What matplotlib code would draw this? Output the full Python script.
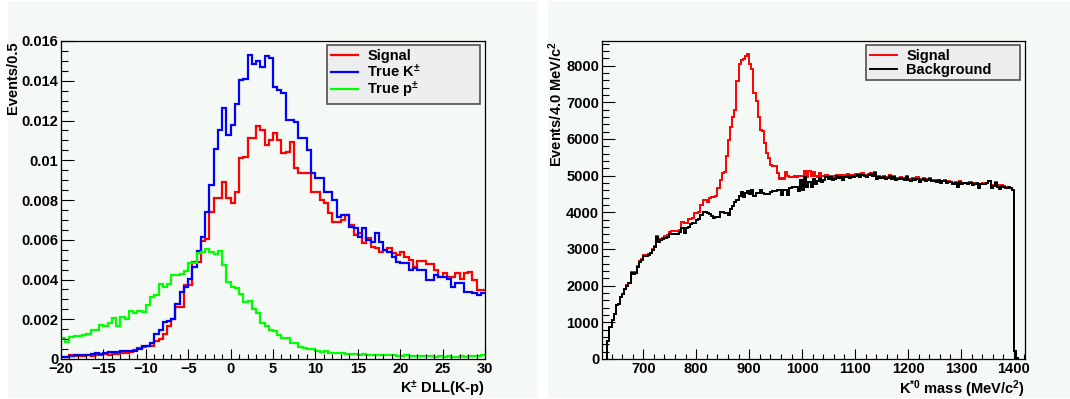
import numpy as np
import matplotlib
matplotlib.use('Agg')
import matplotlib.pyplot as plt
from matplotlib.patches import Rectangle
from matplotlib.ticker import MultipleLocator, FuncFormatter

plt.rcParams['font.family'] = ['Liberation Sans', 'DejaVu Sans']
plt.rcParams['font.weight'] = 'bold'
plt.rcParams['mathtext.fontset'] = 'custom'
plt.rcParams['mathtext.rm'] = 'Liberation Sans:bold'
plt.rcParams['mathtext.it'] = 'Liberation Sans:bold'
plt.rcParams['mathtext.bf'] = 'Liberation Sans:bold'
plt.rcParams['mathtext.default'] = 'rm'

# ---- left panel: K DLL(K-p), 0.5 wide bins starting at -20
dll_start, dll_width = -20.0, 0.5
signal_dll = [
    0.00010, 0.00012, 0.00018, 0.00016, 0.00015, 0.00017, 0.00018, 0.00016, 0.00020, 0.00022,
    0.00024, 0.00022, 0.00026, 0.00025, 0.00028, 0.00030, 0.00034, 0.00045, 0.00055, 0.00059,
    0.00067, 0.00067, 0.00092, 0.00100, 0.00126, 0.00168, 0.00201, 0.00260, 0.00260, 0.00374,
    0.00374, 0.00489, 0.00489, 0.00596, 0.00604, 0.00741, 0.00808, 0.00808, 0.00892, 0.00808,
    0.00783, 0.00842, 0.01009, 0.01018, 0.01110, 0.01110, 0.01172, 0.01152, 0.01077, 0.01102,
    0.01139, 0.01102, 0.01035, 0.01043, 0.01093, 0.00959, 0.00934, 0.00934, 0.00937, 0.00842,
    0.00842, 0.00800, 0.00783, 0.00733, 0.00691, 0.00691, 0.00700, 0.00725, 0.00674, 0.00624,
    0.00632, 0.00582, 0.00607, 0.00565, 0.00557, 0.00540, 0.00548, 0.00557, 0.00532, 0.00523,
    0.00540, 0.00515, 0.00498, 0.00465, 0.00495, 0.00495, 0.00478, 0.00478, 0.00448, 0.00414,
    0.00431, 0.00414, 0.00414, 0.00431, 0.00405, 0.00431, 0.00439, 0.00397, 0.00347, 0.00347,
]
true_k_dll = [
    0.00010, 0.00012, 0.00015, 0.00020, 0.00018, 0.00020, 0.00022, 0.00025, 0.00029, 0.00027,
    0.00029, 0.00033, 0.00037, 0.00035, 0.00040, 0.00042, 0.00040, 0.00038, 0.00052, 0.00066,
    0.00066, 0.00078, 0.00128, 0.00145, 0.00186, 0.00191, 0.00203, 0.00279, 0.00337, 0.00362,
    0.00404, 0.00463, 0.00543, 0.00614, 0.00740, 0.00874, 0.01058, 0.01154, 0.01265, 0.01129,
    0.01176, 0.01285, 0.01402, 0.01410, 0.01529, 0.01484, 0.01500, 0.01467, 0.01524, 0.01512,
    0.01370, 0.01353, 0.01336, 0.01202, 0.01202, 0.01194, 0.01110, 0.01110, 0.01051, 0.00934,
    0.00909, 0.00909, 0.00842, 0.00842, 0.00800, 0.00716, 0.00725, 0.00725, 0.00666, 0.00657,
    0.00615, 0.00657, 0.00599, 0.00590, 0.00632, 0.00590, 0.00548, 0.00540, 0.00515, 0.00490,
    0.00485, 0.00485, 0.00448, 0.00456, 0.00448, 0.00448, 0.00397, 0.00397, 0.00422, 0.00414,
    0.00414, 0.00405, 0.00364, 0.00380, 0.00380, 0.00339, 0.00339, 0.00330, 0.00322, 0.00330,
]
true_p_dll = [
    0.00104, 0.00087, 0.00112, 0.00117, 0.00115, 0.00120, 0.00128, 0.00145, 0.00145, 0.00170,
    0.00165, 0.00181, 0.00208, 0.00165, 0.00211, 0.00203, 0.00242, 0.00233, 0.00242, 0.00237,
    0.00271, 0.00310, 0.00322, 0.00377, 0.00364, 0.00377, 0.00422, 0.00422, 0.00430, 0.00444,
    0.00484, 0.00484, 0.00531, 0.00536, 0.00551, 0.00539, 0.00528, 0.00543, 0.00472, 0.00388,
    0.00364, 0.00355, 0.00327, 0.00289, 0.00294, 0.00250, 0.00233, 0.00180, 0.00165, 0.00146,
    0.00140, 0.00121, 0.00104, 0.00104, 0.00082, 0.00082, 0.00062, 0.00055, 0.00050, 0.00049,
    0.00042, 0.00037, 0.00038, 0.00031, 0.00029, 0.00030, 0.00028, 0.00026, 0.00024, 0.00025,
    0.00022, 0.00024, 0.00021, 0.00020, 0.00022, 0.00019, 0.00020, 0.00018, 0.00019, 0.00017,
    0.00016, 0.00018, 0.00015, 0.00016, 0.00014, 0.00015, 0.00013, 0.00015, 0.00012, 0.00013,
    0.00012, 0.00013, 0.00012, 0.00011, 0.00013, 0.00011, 0.00013, 0.00015, 0.00017, 0.00019,
]

# ---- right panel: K*0 mass, 4 MeV bins starting at 632
mass_start, mass_width = 632.0, 4.0
signal_mass = [
    500, 880, 1050, 1240, 1470, 1500, 1690, 1780, 1910, 2010,
    2070, 2360, 2330, 2380, 2530, 2660, 2720, 2830, 2830, 2860,
    2900, 3000, 3090, 3350, 3230, 3280, 3300, 3340, 3380, 3450,
    3480, 3500, 3480, 3500, 3520, 3740, 3720, 3720, 3830, 3830,
    3850, 3980, 3980, 4000, 4200, 4340, 4340, 4290, 4380, 4430,
    4430, 4440, 4660, 4890, 5070, 5110, 5530, 5980, 6330, 6600,
    6790, 7580, 8040, 8160, 8190, 8270, 8310, 8040, 7920, 7260,
    7030, 6600, 6250, 6210, 5890, 5610, 5480, 5300, 5270, 5250,
    5070, 4900, 4930, 4900, 5090, 4980, 4960, 4960, 5000, 4960, 4980,
    5000, 4980, 5120, 4950, 5130, 4990, 5100, 4980, 4960, 5060, 4990, 5000,
    5010, 4980, 5000, 4950, 5000, 5030, 5000, 5010, 4960, 5010, 5040, 4990, 5030, 5020,
    5040, 5050, 5000, 5060, 5030, 5000, 5040, 5080, 5040, 5100, 4960, 4990, 4960,
    4990, 4930, 4970, 5020, 4950, 4980, 4910, 4930, 4960, 4940,
    4900, 4980, 4920, 4890, 4930, 4910, 4950, 4860, 4900, 4930,
    4880, 4910, 4930, 4870, 4890,
    4830, 4880, 4820, 4850, 4870, 4810, 4840, 4830, 4800, 4820,
    4780, 4840, 4780, 4810, 4800, 4790, 4820, 4770, 4790, 4800,
    4720, 4780, 4790, 4780, 4810, 4840, 4720, 4740, 4820, 4750,
    4700, 4740, 4710, 4690, 4700, 4670, 4620,
    230, 20,
]
background_mass = [
    500, 870, 1050, 1230, 1460, 1500, 1680, 1770, 1900, 2000,
    2060, 2340, 2320, 2340, 2510, 2650, 2700, 2800, 2800, 2830,
    2880, 2970, 3060, 3320, 3200, 3240, 3260, 3300, 3330, 3400,
    3420, 3420, 3400, 3420, 3470, 3560, 3440, 3560, 3610, 3680,
    3700, 3720, 3790, 3820, 3930, 4020, 4000, 3980, 3960, 3900,
    3840, 3860, 3880, 4020, 4000, 3990, 3980, 3930, 4100, 4180,
    4290, 4340, 4450, 4550, 4430, 4520, 4570, 4510, 4600, 4450,
    4520, 4520, 4610, 4520, 4510, 4510, 4510, 4550, 4570, 4570,
    4610, 4600, 4480, 4610, 4610, 4480, 4660, 4700, 4690, 4690, 4570,
    4890, 4620, 4950, 4700, 4820, 4680, 4900, 4760, 4850, 4930, 4820, 4880,
    4960, 4900, 4950, 4870, 4920, 4980, 4940, 4960, 4890, 4950, 5000, 4930, 4980, 4970,
    4990, 5010, 4960, 5020, 4990, 4950, 5010, 5040, 5000, 5080, 4920, 4960, 4930,
    4960, 4900, 4940, 4990, 4920, 4950, 4880, 4900, 4930, 4910,
    4870, 4950, 4890, 4860, 4900, 4880, 4920, 4830, 4870, 4900,
    4850, 4880, 4900, 4840, 4860,
    4820, 4870, 4800, 4840, 4860, 4790, 4830, 4820, 4780, 4810,
    4700, 4830, 4760, 4800, 4790, 4780, 4810, 4750, 4770, 4790,
    4650, 4760, 4780, 4770, 4800, 4840, 4650, 4720, 4810, 4700,
    4640, 4720, 4690, 4650, 4680, 4650, 4600,
    230, 20,
]

PAD = '#f4f9f5'
W, H = 1070, 399


def px_box(x0, y0, x1, y1):
    # pixel box (from top-left) -> [left, bottom, width, height] in figure fraction
    return [x0 / W, 1 - y1 / H, (x1 - x0) / W, (y1 - y0) / H]


def root_style(ax):
    ax.set_facecolor(PAD)
    for s in ax.spines.values():
        s.set_linewidth(0.9)
        s.set_color('black')
    ax.tick_params(which='both', direction='in', top=False, right=False,
                   labelsize=10.5, width=0.8, pad=2)
    ax.tick_params(axis='y', which='major', length=9.5)
    ax.tick_params(axis='y', which='minor', length=4.8)
    ax.tick_params(axis='x', which='major', length=7.2)
    ax.tick_params(axis='x', which='minor', length=3.6)


def bold_ticks(ax):
    for lab in ax.get_xticklabels() + ax.get_yticklabels():
        lab.set_fontweight('bold')


def edges_for(values, start, width):
    return start + width * np.arange(len(values) + 1)


def root_legend(ax, box):
    leg = ax.legend(loc='upper left', bbox_to_anchor=box, bbox_transform=fig.transFigure,
                    mode='expand', prop={'size': 10.5, 'weight': 'bold'},
                    fancybox=False, framealpha=1, facecolor='#eeeeee', edgecolor='#505050',
                    borderpad=0.25, labelspacing=0.0, handlelength=1.9, handletextpad=0.6,
                    borderaxespad=0)
    leg.get_frame().set_linewidth(1.2)
    return leg


fig = plt.figure(figsize=(W / 100, H / 100), dpi=100)
fig.patch.set_facecolor('white')
for x0, x1 in [(8, 538), (548, 1070)]:
    b = px_box(x0, 1, x1, 398)
    fig.patches.append(Rectangle((b[0], b[1]), b[2], b[3], transform=fig.transFigure,
                                 facecolor=PAD, edgecolor='none', zorder=-10))

# Left panel
ax1 = fig.add_axes(px_box(61, 41, 485, 359))
root_style(ax1)
e = edges_for(signal_dll, dll_start, dll_width)
ax1.stairs(signal_dll, e, color='#ff0000', lw=1.6, baseline=None, label='Signal')
ax1.stairs(true_k_dll, e, color='#0000ff', lw=1.6, baseline=None, label='True K$^{\\pm}$')
ax1.stairs(true_p_dll, e, color='#00ff00', lw=1.6, baseline=None, label='True p$^{\\pm}$')
ax1.set_xlim(-20, 30)
ax1.set_ylim(0, 0.016)
ax1.xaxis.set_major_locator(MultipleLocator(5))
ax1.xaxis.set_minor_locator(MultipleLocator(1))
ax1.yaxis.set_major_locator(MultipleLocator(0.002))
ax1.yaxis.set_minor_locator(MultipleLocator(0.0005))
ax1.yaxis.set_major_formatter(FuncFormatter(lambda v, p: f'{v:g}'))
bold_ticks(ax1)
ax1.set_xlabel('K$^{\\pm}$ DLL(K-p)', loc='right', fontsize=10.5, fontweight='bold', labelpad=2)
ax1.set_ylabel('Events/0.5', loc='top', fontsize=10.5, fontweight='bold', labelpad=1)
root_legend(ax1, (327 / W, 1 - 101 / H, 153 / W, 56 / H))

# Right panel
ax2 = fig.add_axes(px_box(602, 41, 1025, 359))
root_style(ax2)
e = edges_for(signal_mass, mass_start, mass_width)
ax2.stairs(signal_mass, e, color='#ff0000', lw=1.4, label='Signal')
ax2.stairs(background_mass, edges_for(background_mass, mass_start, mass_width),
           color='black', lw=1.4, label='Background')
ax2.set_xlim(622, 1421)
ax2.set_ylim(0, 8670)
ax2.xaxis.set_major_locator(MultipleLocator(100))
ax2.xaxis.set_minor_locator(MultipleLocator(20))
ax2.yaxis.set_major_locator(MultipleLocator(1000))
ax2.yaxis.set_minor_locator(MultipleLocator(200))
bold_ticks(ax2)
ax2.set_xlabel('K$^{*0}$ mass (MeV/c$^{2}$)', loc='right', fontsize=10.5, fontweight='bold',
               labelpad=2)
ax2.set_ylabel('Events/4.0 MeV/c$^{2}$', loc='top', fontsize=10.5, fontweight='bold',
               labelpad=1)
root_legend(ax2, (866 / W, 1 - 82 / H, 154 / W, 37 / H))

fig.savefig('out.png', dpi=100, facecolor='white')
